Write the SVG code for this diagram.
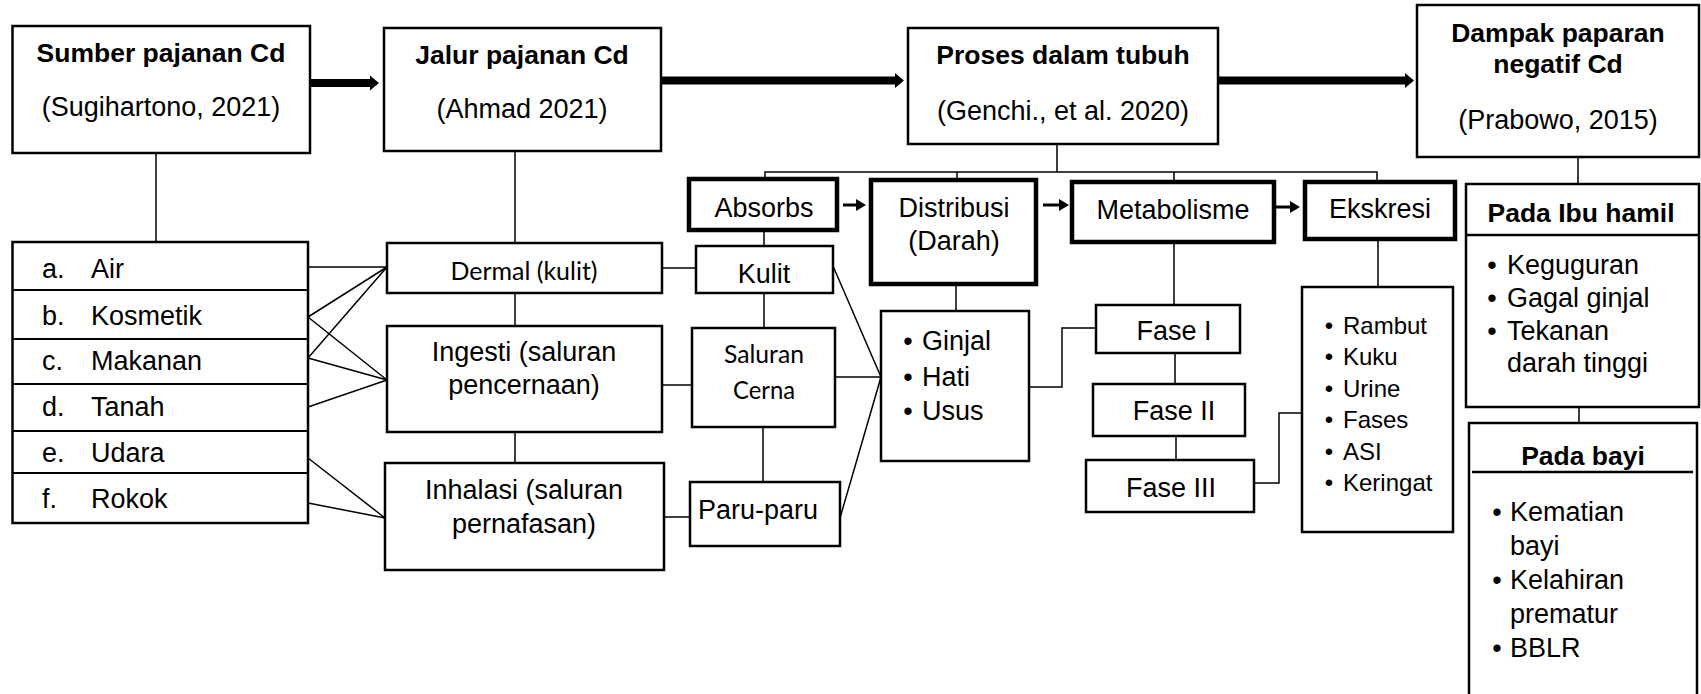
<svg xmlns="http://www.w3.org/2000/svg" width="1701" height="694" viewBox="0 0 1701 694">
<style>
.box{fill:#fff;stroke:#000;stroke-width:2.5}
.thick{fill:#fff;stroke:#000;stroke-width:4.5}
.ln{stroke:#000;stroke-width:1.5;fill:none}
.ar{fill:#000;stroke:none}
text{font-family:"Liberation Sans",Arial,sans-serif;font-size:27px;fill:#000}
.b{font-weight:bold;font-size:26.5px}
.c{text-anchor:middle}
.cal{font-family:Lato,"Open Sans",sans-serif;font-size:25px}
.s{font-size:24px}
</style>
<rect width="1701" height="694" fill="#fff"/>
<g id="connectors">
<path class="ar" d="M310 79H370V75.5L379 83L370 90.5V87H310Z"/>
<path class="ar" d="M661 76.5H895V73L904 80.5L895 88V84.5H661Z"/>
<path class="ar" d="M1218 76.5H1405V73L1414 80.5L1405 88V84.5H1218Z"/>
<path class="ar" d="M843 203.5H856V199L866 205L856 211V206.5H843Z"/>
<path class="ar" d="M1043 203.5H1059V199L1069 205L1059 211V206.5H1043Z"/>
<path class="ar" d="M1276 205.5H1290V201L1300 207L1290 213V208.5H1276Z"/>
<path class="ln" d="M156 153V242M515 151V243M515 293V326M515 432V463"/>
<path class="ln" d="M308 267H387M308 317L387 267M308 358L387 267M308 317L387 380M308 358L387 380M308 407L387 380M308 458L385 518M308 503L385 518"/>
<path class="ln" d="M1057 144V172M765 179V172H1377V182M957 172V180M1174 172V182"/>
<path class="ln" d="M764 230V246M764 293V328M763 427V482M662 268H696M662 385H692M664 517H690"/>
<path class="ln" d="M833 266L881 377M835 377H881M840 518L881 377"/>
<path class="ln" d="M956 284V311M1029 387H1062V328H1096M1174 242V305M1175 353V384M1176 436V460"/>
<path class="ln" d="M1254 483H1279V413H1302M1378 239V287"/>
<path class="ln" d="M1578 157V184M1579 407V423"/>
</g>
<g id="sumber">
<rect class="box" x="12.5" y="26" width="297.5" height="127"/>
<text class="b c" x="161" y="62">Sumber pajanan Cd</text>
<text class="c" x="161" y="116">(Sugihartono, 2021)</text>
</g>
<g id="jalur">
<rect class="box" x="384" y="28" width="277" height="123"/>
<text class="b c" x="522" y="64">Jalur pajanan Cd</text>
<text class="c" x="522" y="118">(Ahmad 2021)</text>
</g>
<g id="proses">
<rect class="box" x="908" y="28" width="310" height="116"/>
<text class="b c" x="1063" y="64">Proses dalam tubuh</text>
<text class="c" x="1063" y="120">(Genchi., et al. 2020)</text>
</g>
<g id="dampak">
<rect class="box" x="1417" y="5" width="282" height="152"/>
<text class="b c" x="1558" y="42">Dampak paparan</text>
<text class="b c" x="1558" y="73">negatif Cd</text>
<text class="c" x="1558" y="129">(Prabowo, 2015)</text>
</g>
<g id="sumber-list">
<rect class="box" x="12.5" y="242" width="295.5" height="281"/>
<path class="ln" d="M12.5 290H308M12.5 339H308M12.5 384H308M12.5 431H308M12.5 473H308" style="stroke-width:2"/>
<text x="42" y="278">a.</text><text x="91" y="278">Air</text>
<text x="42" y="325">b.</text><text x="91" y="325">Kosmetik</text>
<text x="42" y="370">c.</text><text x="91" y="370">Makanan</text>
<text x="42" y="416">d.</text><text x="91" y="416">Tanah</text>
<text x="42" y="462">e.</text><text x="91" y="462">Udara</text>
<text x="42" y="508">f.</text><text x="91" y="508">Rokok</text>
</g>
<g id="dermal">
<rect class="box" x="387" y="243" width="275" height="50"/>
<text class="cal c" x="524" y="280" textLength="147" lengthAdjust="spacingAndGlyphs">Dermal (kulit)</text>
</g>
<g id="ingesti">
<rect class="box" x="387" y="326" width="275" height="106"/>
<text class="c" x="524" y="361">Ingesti (saluran</text>
<text class="c" x="524" y="394">pencernaan)</text>
</g>
<g id="inhalasi">
<rect class="box" x="385" y="463" width="279" height="107"/>
<text class="c" x="524" y="499">Inhalasi (saluran</text>
<text class="c" x="524" y="533">pernafasan)</text>
</g>
<g id="absorbs">
<rect class="thick" x="689" y="179" width="148" height="51"/>
<text class="c" x="764" y="217">Absorbs</text>
</g>
<g id="distribusi">
<rect class="thick" x="871" y="180" width="165" height="104"/>
<text class="c" x="954" y="217">Distribusi</text>
<text class="c" x="954" y="250">(Darah)</text>
</g>
<g id="metabolisme">
<rect class="thick" x="1072" y="182" width="202" height="60"/>
<text class="c" x="1173" y="219">Metabolisme</text>
</g>
<g id="ekskresi">
<rect class="thick" x="1305" y="182" width="150" height="57"/>
<text class="c" x="1380" y="218">Ekskresi</text>
</g>
<g id="kulit">
<rect class="box" x="696" y="246" width="137" height="47"/>
<text class="c" x="764" y="283">Kulit</text>
</g>
<g id="saluran-cerna">
<rect class="box" x="692" y="328" width="143" height="99"/>
<text class="cal c" x="764" y="363" textLength="80" lengthAdjust="spacingAndGlyphs">Saluran</text>
<text class="cal c" x="764" y="399" textLength="62" lengthAdjust="spacingAndGlyphs">Cerna</text>
</g>
<g id="paru">
<rect class="box" x="690" y="482" width="150" height="64"/>
<text class="c" x="758" y="519">Paru-paru</text>
</g>
<g id="organ">
<rect class="box" x="881" y="311" width="148" height="150"/>
<text class="c" x="908" y="350">•</text><text x="922" y="350">Ginjal</text>
<text class="c" x="908" y="386">•</text><text x="922" y="386">Hati</text>
<text class="c" x="908" y="420">•</text><text x="922" y="420">Usus</text>
</g>
<g id="fase1">
<rect class="box" x="1096" y="305" width="144" height="48"/>
<text class="c" x="1174" y="340">Fase I</text>
</g>
<g id="fase2">
<rect class="box" x="1093" y="384" width="152" height="52"/>
<text class="c" x="1174" y="420">Fase II</text>
</g>
<g id="fase3">
<rect class="box" x="1086" y="460" width="168" height="52"/>
<text class="c" x="1171" y="497">Fase III</text>
</g>
<g id="ekskresi-list">
<rect class="box" x="1302" y="287" width="151" height="245"/>
<text class="s c" x="1329" y="334">•</text><text class="s" x="1343" y="334">Rambut</text>
<text class="s c" x="1329" y="365">•</text><text class="s" x="1343" y="365">Kuku</text>
<text class="s c" x="1329" y="397">•</text><text class="s" x="1343" y="397">Urine</text>
<text class="s c" x="1329" y="428">•</text><text class="s" x="1343" y="428">Fases</text>
<text class="s c" x="1329" y="460">•</text><text class="s" x="1343" y="460">ASI</text>
<text class="s c" x="1329" y="491">•</text><text class="s" x="1343" y="491">Keringat</text>
</g>
<g id="ibu-hamil">
<rect class="box" x="1466" y="184" width="233" height="223"/>
<path class="ln" d="M1466 235H1699" style="stroke-width:2.5"/>
<text class="b c" x="1581" y="222">Pada Ibu hamil</text>
<text class="c" x="1492" y="274">•</text><text x="1507" y="274">Keguguran</text>
<text class="c" x="1492" y="307">•</text><text x="1507" y="307">Gagal ginjal</text>
<text class="c" x="1492" y="340">•</text><text x="1507" y="340">Tekanan</text>
<text x="1507" y="372">darah tinggi</text>
</g>
<g id="bayi">
<rect class="box" x="1469" y="423" width="228" height="280"/>
<path class="ln" d="M1472 472H1693" style="stroke-width:2.5"/>
<text class="b c" x="1583" y="465">Pada bayi</text>
<text class="c" x="1497" y="521">•</text><text x="1510" y="521">Kematian</text>
<text x="1510" y="555">bayi</text>
<text class="c" x="1497" y="589">•</text><text x="1510" y="589">Kelahiran</text>
<text x="1510" y="623">prematur</text>
<text class="c" x="1497" y="657">•</text><text x="1510" y="657">BBLR</text>
</g>
</svg>
